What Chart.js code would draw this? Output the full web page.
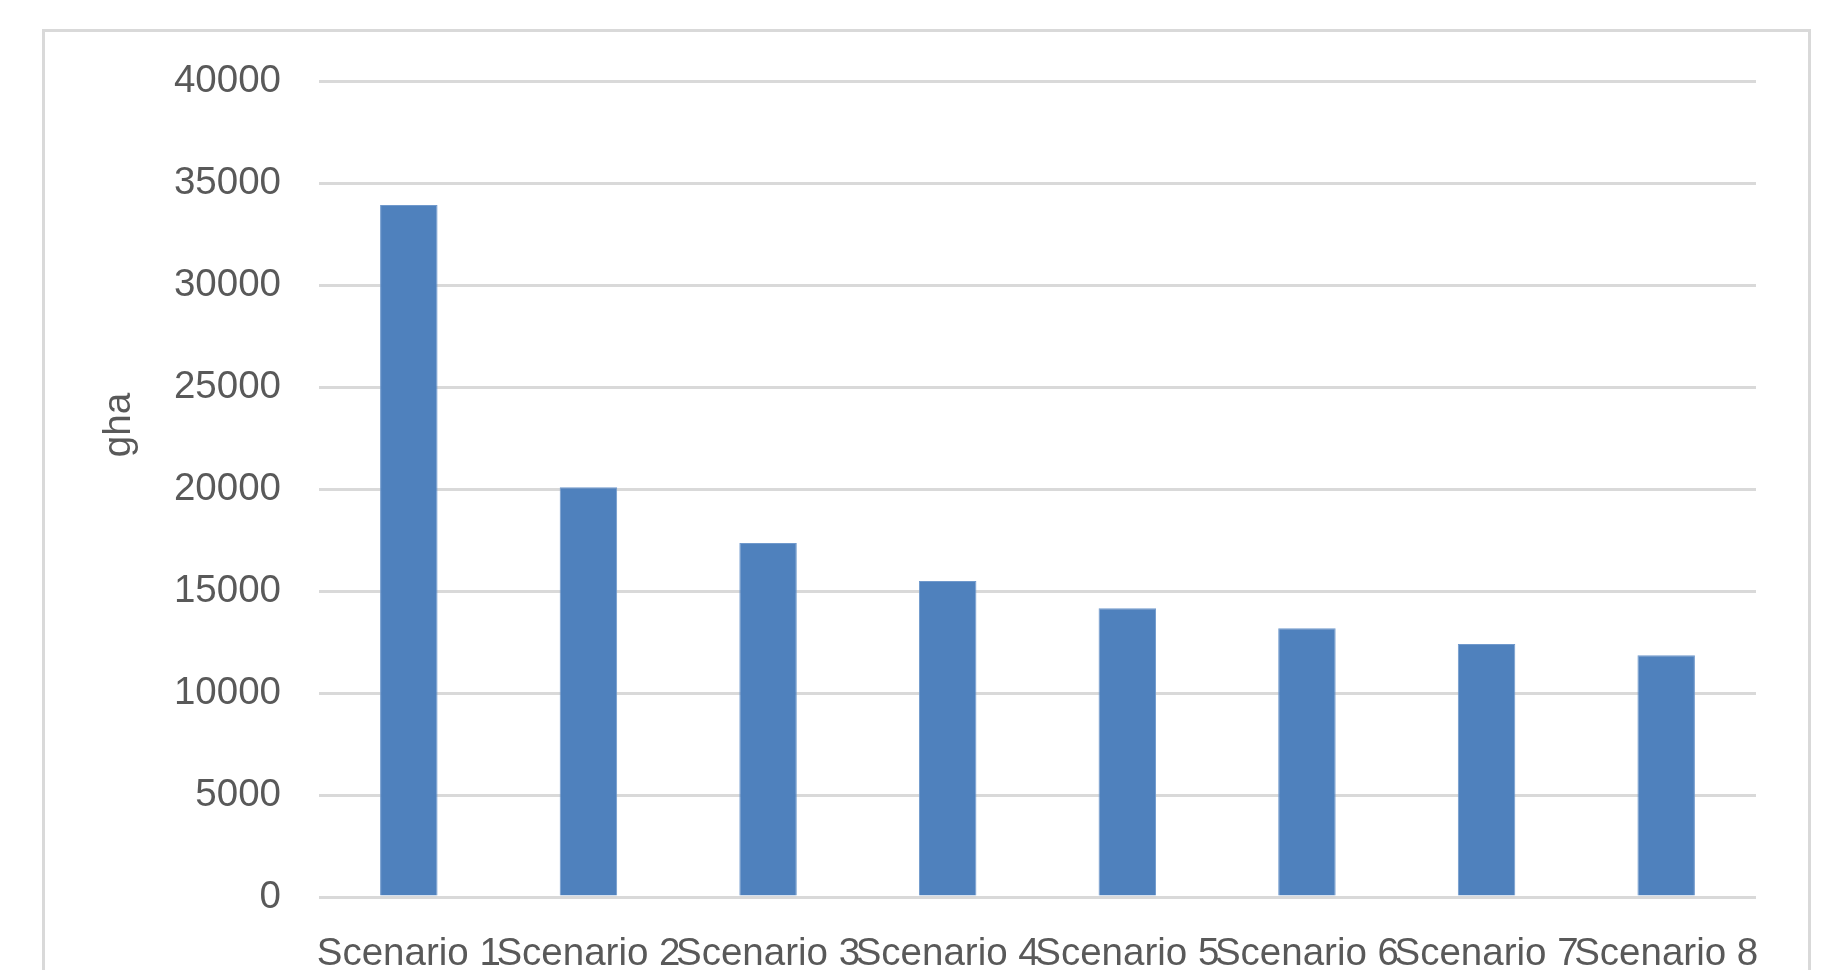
<!DOCTYPE html>
<html>
<head>
<meta charset="utf-8">
<title>Ecological footprint by scenario</title>
<script src="https://cdn.jsdelivr.net/npm/chart.js@4/dist/chart.umd.min.js"></script>
<style>
  html, body { margin: 0; padding: 0; background: #ffffff; overflow: hidden; }
  #wrap { position: relative; width: 1844px; height: 970px; }
  #frame {
    position: absolute; left: 42px; top: 29px;
    width: 1763px; height: 1000px;
    border: 3px solid #d9d9d9; box-sizing: content-box;
    pointer-events: none;
  }
  canvas { position: absolute; left: 0; top: 0; }
</style>
</head>
<body>
<div id="wrap">
  <canvas id="chart" width="1844" height="970"></canvas>
  <div id="frame"></div>
</div>
<script>
// Categories and values (gha)
const categories = ['Scenario 1', 'Scenario 2', 'Scenario 3', 'Scenario 4',
                    'Scenario 5', 'Scenario 6', 'Scenario 7', 'Scenario 8'];
const footprint = [33920, 20090, 17350, 15490, 14160, 13170, 12400, 11850];
const yTicks = [0, 5000, 10000, 15000, 20000, 25000, 30000, 35000, 40000];
const yTitle = 'gha';

const textColor = '#595959';
const gridColor = '#d9d9d9';
const fontFamily = '"Liberation Sans", Arial, sans-serif';
const fontSize = 38.5;

// Rotated y-axis title, placed a little above the middle of the plot area
const axisTitlePlugin = {
  id: 'axisTitle',
  afterDraw(chart) {
    const { ctx, chartArea } = chart;
    const y = chartArea.top + 0.4216 * (chartArea.bottom - chartArea.top);
    ctx.save();
    ctx.translate(119, y);
    ctx.rotate(-Math.PI / 2);
    ctx.font = fontSize + 'px ' + fontFamily;
    ctx.fillStyle = textColor;
    ctx.textAlign = 'center';
    ctx.textBaseline = 'middle';
    ctx.fillText(yTitle, 0, 0);
    ctx.restore();
  }
};

new Chart(document.getElementById('chart'), {
  type: 'bar',
  data: {
    labels: categories,
    datasets: [{
      label: yTitle,
      data: footprint,
      backgroundColor: '#4f81bd',
      borderColor: '#7099cc',
      borderWidth: 1,
      categoryPercentage: 1.0,
      barPercentage: 0.32
    }]
  },
  options: {
    responsive: false,
    animation: false,
    devicePixelRatio: 1,
    layout: { padding: { top: 81, right: 88, bottom: 0, left: 0 } },
    plugins: {
      legend: { display: false },
      tooltip: { enabled: false },
      title: { display: false }
    },
    scales: {
      x: {
        grid: { display: false, drawTicks: false },
        border: { display: false },
        ticks: {
          color: textColor,
          font: { family: fontFamily, size: fontSize },
          padding: 34,
          maxRotation: 0,
          minRotation: 0,
          autoSkip: false
        },
        afterFit(scale) { scale.height = 73; }
      },
      y: {
        min: 0,
        max: 40000,
        afterBuildTicks(scale) { scale.ticks = yTicks.map(v => ({ value: v })); },
        grid: { color: gridColor, lineWidth: 3, drawTicks: false },
        border: { display: false },
        ticks: {
          color: textColor,
          font: { family: fontFamily, size: fontSize },
          padding: 38,
          callback: v => String(v)
        },
        afterFit(scale) { scale.width = 319; }
      }
    }
  },
  plugins: [axisTitlePlugin]
});
</script>
</body>
</html>
